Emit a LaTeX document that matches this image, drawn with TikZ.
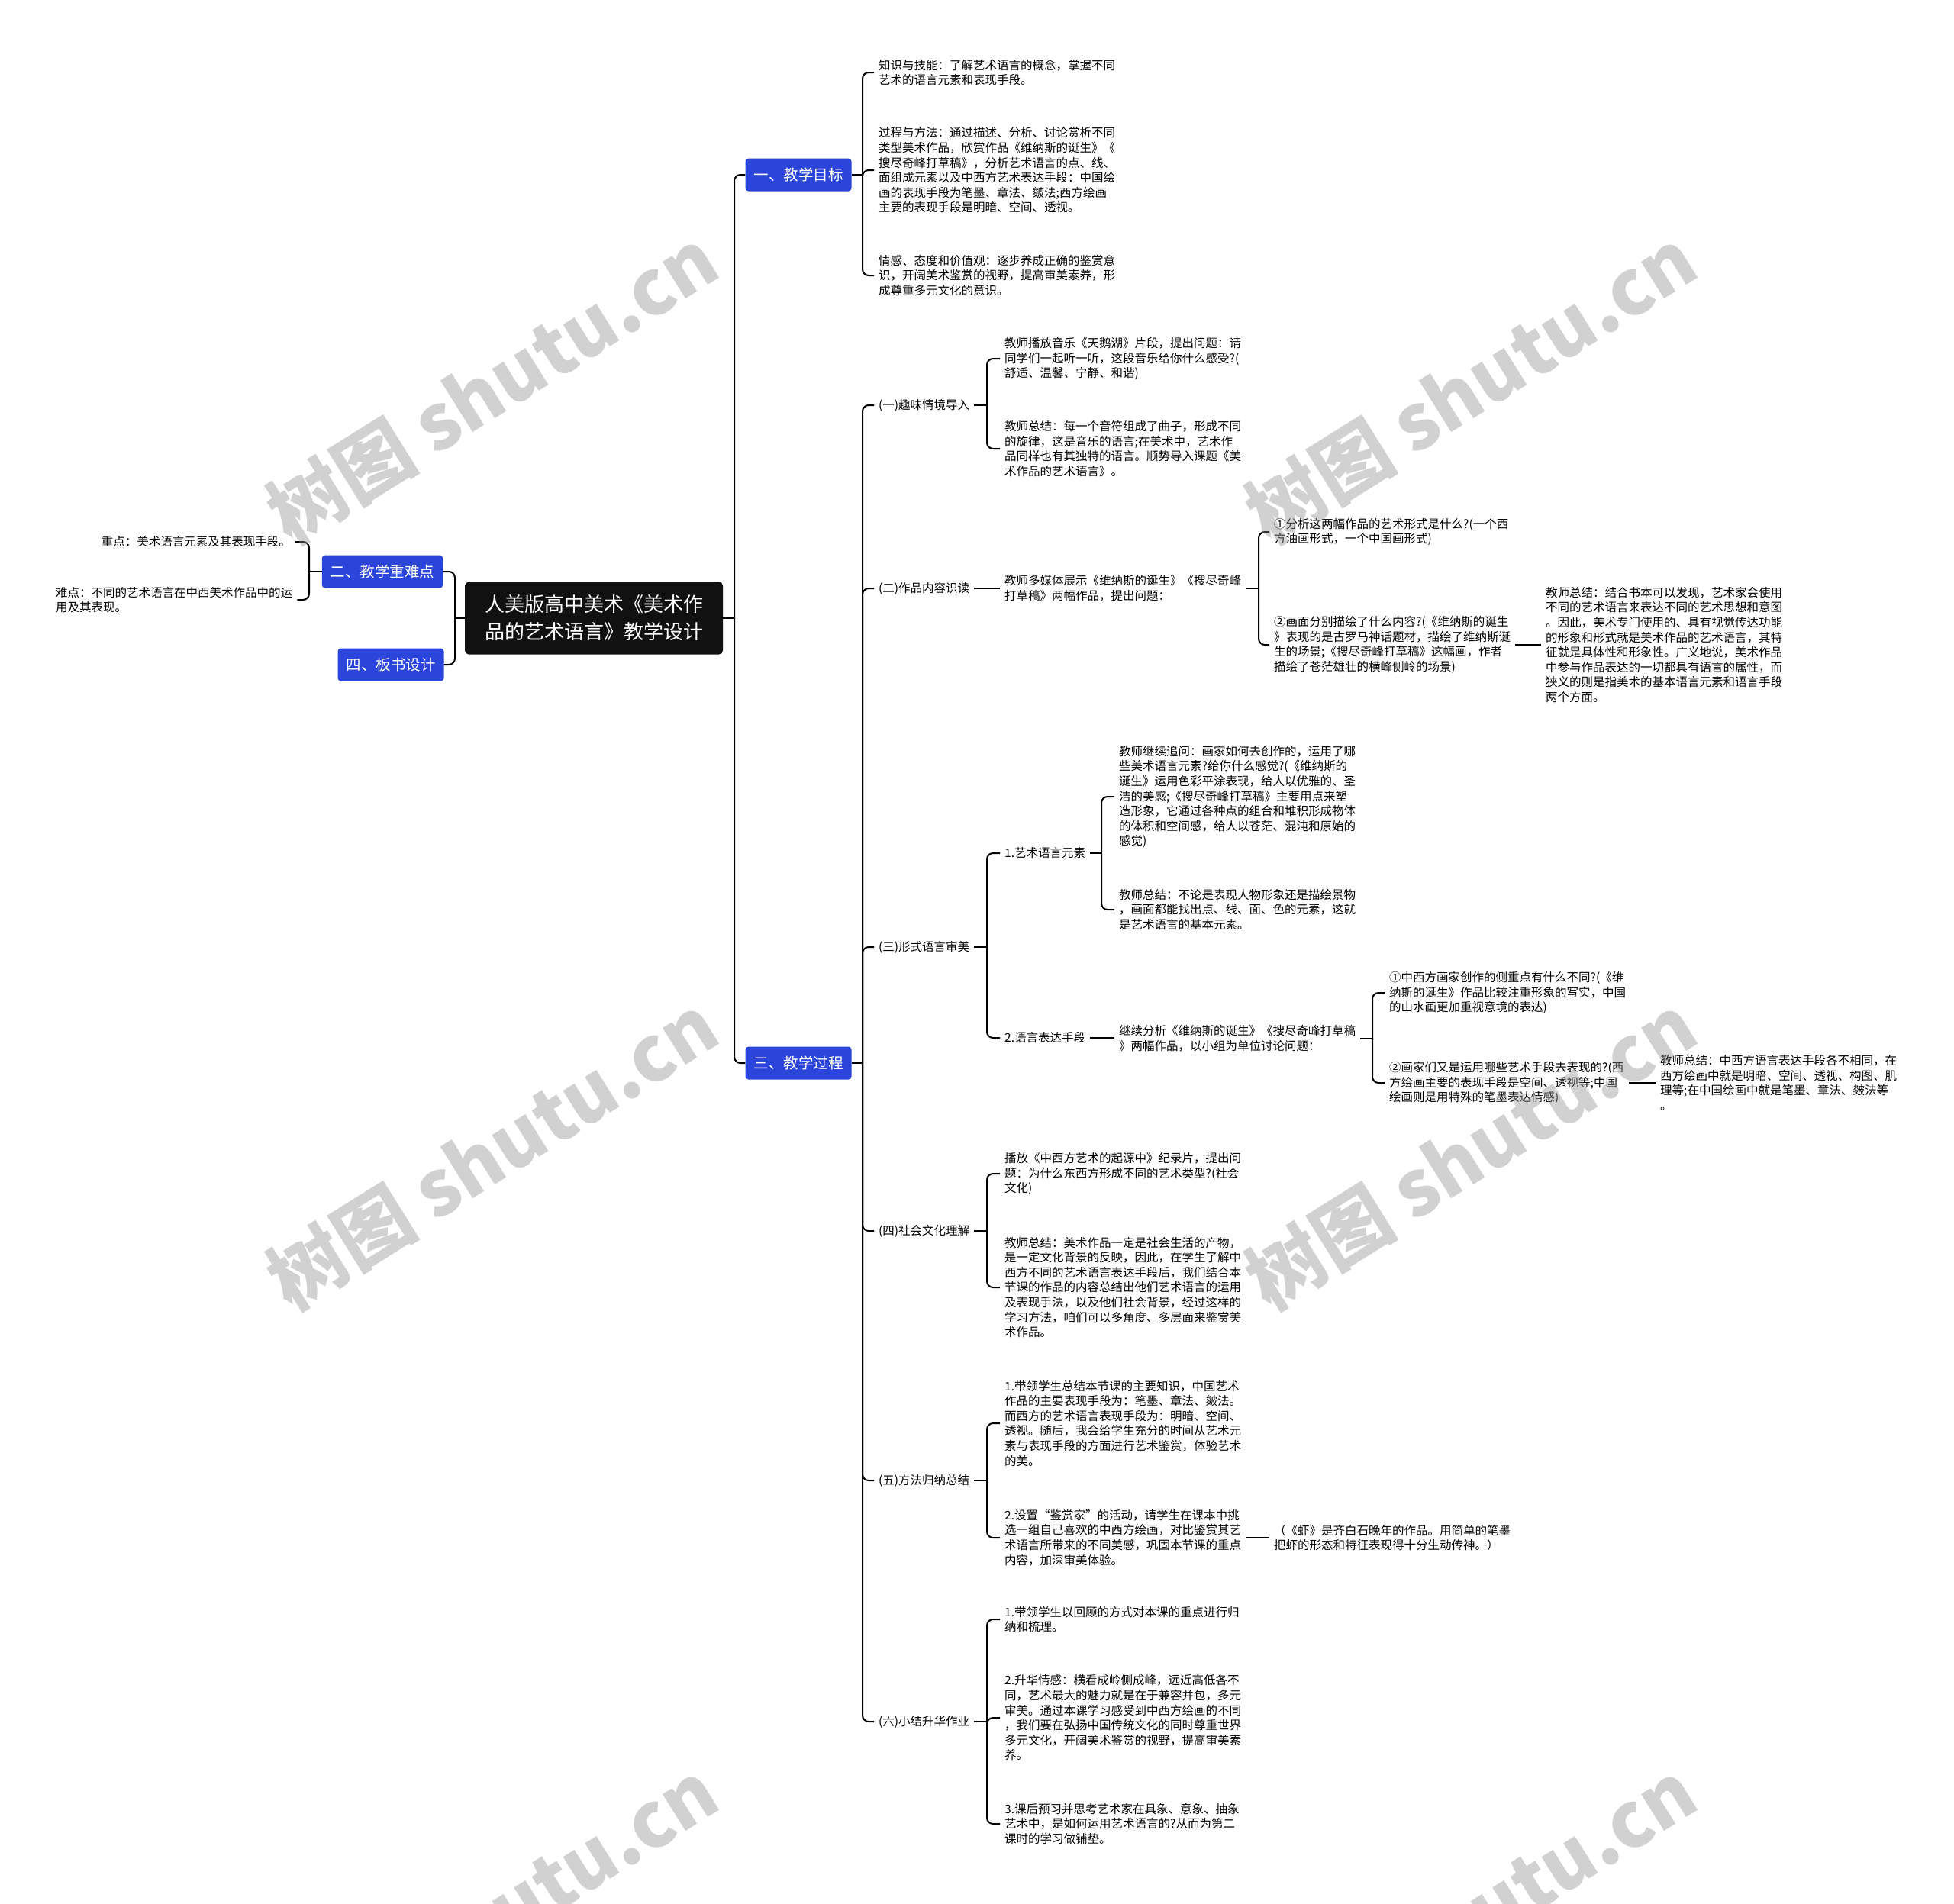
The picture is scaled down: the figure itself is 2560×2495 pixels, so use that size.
\documentclass[tikz,border=0pt]{standalone}
\usepackage{fontspec}
\setmainfont{Noto Sans CJK SC}
\definecolor{topicblue}{RGB}{43,68,218}
\definecolor{rootblack}{RGB}{17,17,17}
\begin{document}
\begin{tikzpicture}[x=1pt, y=-1pt,
	conn/.style={line width=2pt},
	brace/.style={line width=2pt, rounded corners=8pt},
	txt/.style={anchor=west, align=left, inner xsep=6pt, inner ysep=2pt, font=\fontsize{15.5}{19.6}\selectfont},
	topic/.style={fill=topicblue, text=white, rounded corners=4pt, minimum height=43pt, inner xsep=11pt, font=\fontsize{19.5}{22}\selectfont},
	wmark/.style={rotate=32, text=black!45, text opacity=0.4, font=\fontsize{100}{110}\selectfont\bfseries}]
	\useasboundingbox (0,0) rectangle (2560,2495);
	\fill[white] (0,0) rectangle (2560,2495);
	% root and main topics
	\node[fill=rootblack, text=white, rounded corners=5pt, minimum width=338pt, minimum height=95pt, align=center, font=\fontsize{26}{36}\selectfont] (root) at (778,810) {人美版高中美术《美术作\\品的艺术语言》教学设计};
	\node[topic] (goal) at (1046,229) {一、教学目标};
	\node[topic] (proc) at (1046,1393) {三、教学过程};
	\node[topic] (key) at (501,749) {二、教学重难点};
	\node[topic] (board) at (512,871) {四、板书设计};
	% left side
	\node[txt, anchor=east] (k1) at (387,710) {重点：美术语言元素及其表现手段。};
	\node[txt] (k2) at (67,786) {难点：不同的艺术语言在中西美术作品中的运\\用及其表现。};
	% goals
	\node[txt] (g1) at (1145,95) {知识与技能：了解艺术语言的概念，掌握不同\\艺术的语言元素和表现手段。};
	\node[txt] (g2) at (1145,223) {过程与方法：通过描述、分析、讨论赏析不同\\类型美术作品，欣赏作品《维纳斯的诞生》《\\搜尽奇峰打草稿》，分析艺术语言的点、线、\\面组成元素以及中西方艺术表达手段：中国绘\\画的表现手段为笔墨、章法、皴法;西方绘画\\主要的表现手段是明暗、空间、透视。};
	\node[txt] (g3) at (1145,361) {情感、态度和价值观：逐步养成正确的鉴赏意\\识，开阔美术鉴赏的视野，提高审美素养，形\\成尊重多元文化的意识。};
	% process steps
	\node[txt] (p1) at (1145,531) {(一)趣味情境导入};
	\node[txt] (p2) at (1145,771) {(二)作品内容识读};
	\node[txt] (p3) at (1145,1241) {(三)形式语言审美};
	\node[txt] (p4) at (1145,1613) {(四)社会文化理解};
	\node[txt] (p5) at (1145,1940) {(五)方法归纳总结};
	\node[txt] (p6) at (1145,2256) {(六)小结升华作业};
	\node[txt] (p1a) at (1310,470) {教师播放音乐《天鹅湖》片段，提出问题：请\\同学们一起听一听，这段音乐给你什么感受?(\\舒适、温馨、宁静、和谐)};
	\node[txt] (p1b) at (1310,588) {教师总结：每一个音符组成了曲子，形成不同\\的旋律，这是音乐的语言;在美术中，艺术作\\品同样也有其独特的语言。顺势导入课题《美\\术作品的艺术语言》。};
	\node[txt] (p2q) at (1310,771) {教师多媒体展示《维纳斯的诞生》《搜尽奇峰\\打草稿》两幅作品，提出问题：};
	\node[txt] (p2a) at (1663,697) {①分析这两幅作品的艺术形式是什么?(一个西\\方油画形式，一个中国画形式)};
	\node[txt] (p2b) at (1663,845) {②画面分别描绘了什么内容?(《维纳斯的诞生\\》表现的是古罗马神话题材，描绘了维纳斯诞\\生的场景;《搜尽奇峰打草稿》这幅画，作者\\描绘了苍茫雄壮的横峰侧岭的场景)};
	\node[txt] (p2s) at (2019,845) {教师总结：结合书本可以发现，艺术家会使用\\不同的艺术语言来表达不同的艺术思想和意图\\。因此，美术专门使用的、具有视觉传达功能\\的形象和形式就是美术作品的艺术语言，其特\\征就是具体性和形象性。广义地说，美术作品\\中参与作品表达的一切都具有语言的属性，而\\狭义的则是指美术的基本语言元素和语言手段\\两个方面。};
	\node[txt] (p3a) at (1310,1118) {1.艺术语言元素};
	\node[txt] (p3a1) at (1460,1044) {教师继续追问：画家如何去创作的，运用了哪\\些美术语言元素?给你什么感觉?(《维纳斯的\\诞生》运用色彩平涂表现，给人以优雅的、圣\\洁的美感;《搜尽奇峰打草稿》主要用点来塑\\造形象，它通过各种点的组合和堆积形成物体\\的体积和空间感，给人以苍茫、混沌和原始的\\感觉)};
	\node[txt] (p3a2) at (1460,1192) {教师总结：不论是表现人物形象还是描绘景物\\，画面都能找出点、线、面、色的元素，这就\\是艺术语言的基本元素。};
	\node[txt] (p3b) at (1310,1360) {2.语言表达手段};
	\node[txt] (p3bq) at (1460,1361) {继续分析《维纳斯的诞生》《搜尽奇峰打草稿\\》两幅作品，以小组为单位讨论问题：};
	\node[txt] (p3b1) at (1814,1301) {①中西方画家创作的侧重点有什么不同?(《维\\纳斯的诞生》作品比较注重形象的写实，中国\\的山水画更加重视意境的表达)};
	\node[txt] (p3b2) at (1814,1419) {②画家们又是运用哪些艺术手段去表现的?(西\\方绘画主要的表现手段是空间、透视等;中国\\绘画则是用特殊的笔墨表达情感)};
	\node[txt] (p3bs) at (2169,1419) {教师总结：中西方语言表达手段各不相同，在\\西方绘画中就是明暗、空间、透视、构图、肌\\理等;在中国绘画中就是笔墨、章法、皴法等\\。};
	\node[txt] (p4a) at (1310,1538) {播放《中西方艺术的起源中》纪录片，提出问\\题：为什么东西方形成不同的艺术类型?(社会\\文化)};
	\node[txt] (p4b) at (1310,1687) {教师总结：美术作品一定是社会生活的产物，\\是一定文化背景的反映，因此，在学生了解中\\西方不同的艺术语言表达手段后，我们结合本\\节课的作品的内容总结出他们艺术语言的运用\\及表现手法，以及他们社会背景，经过这样的\\学习方法，咱们可以多角度、多层面来鉴赏美\\术作品。};
	\node[txt] (p5a) at (1310,1865) {1.带领学生总结本节课的主要知识，中国艺术\\作品的主要表现手段为：笔墨、章法、皴法。\\而西方的艺术语言表现手段为：明暗、空间、\\透视。随后，我会给学生充分的时间从艺术元\\素与表现手段的方面进行艺术鉴赏，体验艺术\\的美。};
	\node[txt] (p5b) at (1310,2015) {2.设置“鉴赏家”的活动，请学生在课本中挑\\选一组自己喜欢的中西方绘画，对比鉴赏其艺\\术语言所带来的不同美感，巩固本节课的重点\\内容，加深审美体验。};
	\node[txt] (p5s) at (1663,2015) {（《虾》是齐白石晚年的作品。用简单的笔墨\\把虾的形态和特征表现得十分生动传神。）};
	\node[txt] (p6a) at (1310,2122) {1.带领学生以回顾的方式对本课的重点进行归\\纳和梳理。};
	\node[txt] (p6b) at (1310,2251) {2.升华情感：横看成岭侧成峰，远近高低各不\\同，艺术最大的魅力就是在于兼容并包，多元\\审美。通过本课学习感受到中西方绘画的不同\\，我们要在弘扬中国传统文化的同时尊重世界\\多元文化，开阔美术鉴赏的视野，提高审美素\\养。};
	\node[txt] (p6c) at (1310,2390) {3.课后预习并思考艺术家在具象、意象、抽象\\艺术中，是如何运用艺术语言的?从而为第二\\课时的学习做铺垫。};
	% junctions
	\coordinate (jR) at (962,810);
	\coordinate (jL) at (596,810);
	\coordinate (jkey) at (405,749);
	\coordinate (jgoal) at (1130,229);
	\coordinate (jproc) at (1130,1393);
	\coordinate (jp1) at (1293,531);
	\coordinate (jp2) at (1649,771);
	\coordinate (jp3) at (1293,1241);
	\coordinate (jp3a) at (1443,1118);
	\coordinate (jp3b) at (1798,1361);
	\coordinate (jp4) at (1293,1613);
	\coordinate (jp5) at (1293,1940);
	\coordinate (jp6) at (1293,2256);
	% connectors
	\draw[conn] (root.east) -- (jR) (root.west) -- (jL) (key.west) -- (jkey) (goal.east) -- (jgoal) (proc.east) -- (jproc);
	\draw[conn] (p1.east) -- (jp1) (p2q.east) -- (jp2) (p3.east) -- (jp3) (p3a.east) -- (jp3a) (p3bq.east) -- (jp3b) (p4.east) -- (jp4) (p5.east) -- (jp5) (p6.east) -- (jp6);
	\draw[brace] (jR) |- (goal.west) (jR) |- (proc.west);
	\draw[brace] (jL) |- (key.east) (jL) |- (board.east);
	\draw[brace] (jkey) |- (k1.east) (jkey) |- (k2.east);
	\foreach \c in {g1,g2,g3} \draw[brace] (jgoal) |- (\c.west);
	\foreach \c in {p1,p2,p3,p4,p5,p6} \draw[brace] (jproc) |- (\c.west);
	\draw[brace] (jp1) |- (p1a.west) (jp1) |- (p1b.west);
	\draw[brace] (jp2) |- (p2a.west) (jp2) |- (p2b.west);
	\draw[brace] (jp3) |- (p3a.west) (jp3) |- (p3b.west);
	\draw[brace] (jp3a) |- (p3a1.west) (jp3a) |- (p3a2.west);
	\draw[brace] (jp3b) |- (p3b1.west) (jp3b) |- (p3b2.west);
	\draw[brace] (jp4) |- (p4a.west) (jp4) |- (p4b.west);
	\draw[brace] (jp5) |- (p5a.west) (jp5) |- (p5b.west);
	\foreach \c in {p6a,p6b,p6c} \draw[brace] (jp6) |- (\c.west);
	\draw[conn] (p2.east) -- (p2.east -| p2q.west);
	\draw[conn] (p2b.east) -- (p2b.east -| p2s.west);
	\draw[conn] (p3b.east) -- (p3b.east -| p3bq.west);
	\draw[conn] (p3b2.east) -- (p3b2.east -| p3bs.west);
	\draw[conn] (p5b.east) -- (p5b.east -| p5s.west);
	% watermarks
	\foreach \wx/\wy [count=\i] in {645/506, 1927/506, 645/1510, 1927/1510, 645/2514, 1927/2514}
		\node[wmark] (wm\i) at (\wx,\wy) {树图 shutu.cn};
\end{tikzpicture}
\end{document}
